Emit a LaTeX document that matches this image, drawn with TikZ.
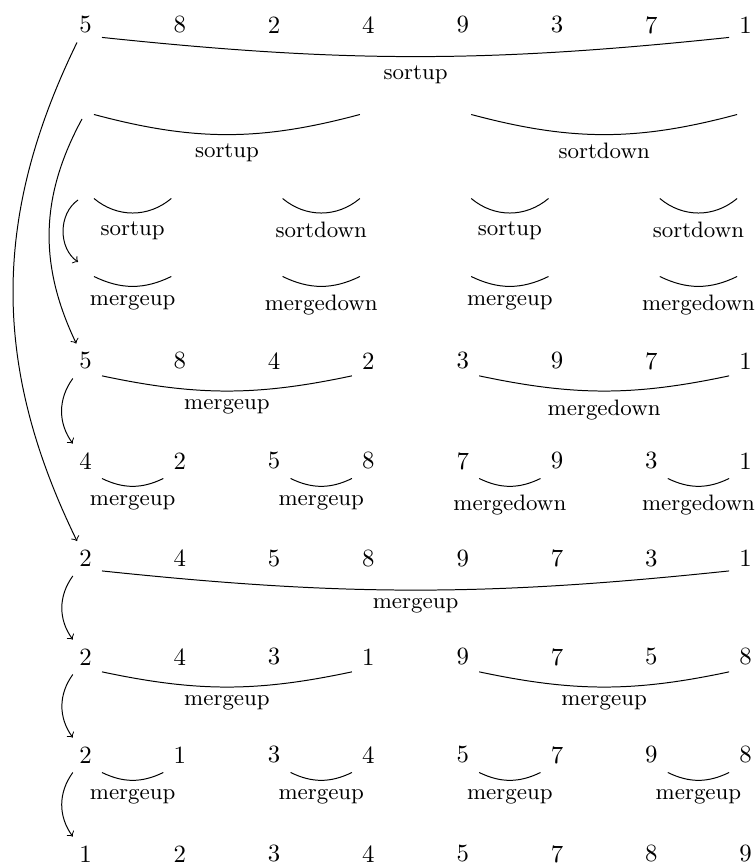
\documentclass[tikz,border=0pt]{standalone}
\begin{document}
\begin{tikzpicture}[x=0.4032pt,y=0.4032pt,
  num/.style={inner sep=0pt, minimum width=12.9pt, minimum height=13.7pt},
  hole/.style={inner sep=0pt, minimum size=6.45pt},
  lbl/.style={below, font=\small},
  flow/.style={->}]
\useasboundingbox (0,0) rectangle (755,-865);
% number rows
\foreach \v [count=\i from 0] in {5,8,2,4,9,3,7,1} \node[num] (r0c\i) at (85.5+94.3*\i,-25) {\v};
\foreach \v [count=\i from 0] in {5,8,4,2,3,9,7,1} \node[num] (r4c\i) at (85.5+94.3*\i,-361) {\v};
\foreach \v [count=\i from 0] in {4,2,5,8,7,9,3,1} \node[num] (r5c\i) at (85.5+94.3*\i,-461) {\v};
\foreach \v [count=\i from 0] in {2,4,5,8,9,7,3,1} \node[num] (r6c\i) at (85.5+94.3*\i,-558.5) {\v};
\foreach \v [count=\i from 0] in {2,4,3,1,9,7,5,8} \node[num] (r7c\i) at (85.5+94.3*\i,-657) {\v};
\foreach \v [count=\i from 0] in {2,1,3,4,5,7,9,8} \node[num] (r8c\i) at (85.5+94.3*\i,-755) {\v};
\foreach \v [count=\i from 0] in {1,2,3,4,5,7,8,9} \node[num] (r9c\i) at (85.5+94.3*\i,-854) {\v};
% empty rows
\foreach \i in {0,...,7} {
  \node[hole] (h1c\i) at (85.5+94.3*\i,-106) {};
  \node[hole] (h2c\i) at (85.5+94.3*\i,-190) {};
  \node[hole] (h3c\i) at (85.5+94.3*\i,-268) {};
}
% brackets
\draw (r0c0.-37) to[bend right=6] node[lbl]{sortup} (r0c7.217);
\draw (h1c0.south east) to[bend right=15] node[lbl]{sortup} (h1c3.south west);
\draw (h1c4.south east) to[bend right=15] node[lbl]{sortdown} (h1c7.south west);
\foreach \a/\b/\t in {0/1/sortup,2/3/sortdown,4/5/sortup,6/7/sortdown}
  \draw (h2c\a.south east) to[bend right=40] node[lbl]{\t} (h2c\b.south west);
\foreach \a/\b/\t in {0/1/mergeup,2/3/mergedown,4/5/mergeup,6/7/mergedown}
  \draw (h3c\a.south east) to[bend right=26] node[lbl]{\t} (h3c\b.south west);
\draw (r4c0.-42) to[bend right=12] node[lbl]{mergeup} (r4c3.222);
\draw (r4c4.-42) to[bend right=12] node[lbl]{mergedown} (r4c7.222);
\foreach \a/\b/\t in {0/1/mergeup,2/3/mergeup,4/5/mergedown,6/7/mergedown}
  \draw (r5c\a.south east) to[bend right=26] node[lbl]{\t} (r5c\b.south west);
\draw (r6c0.-37) to[bend right=6] node[lbl]{mergeup} (r6c7.217);
\draw (r7c0.-42) to[bend right=12] node[lbl]{mergeup} (r7c3.222);
\draw (r7c4.-42) to[bend right=12] node[lbl]{mergeup} (r7c7.222);
\foreach \a/\b in {0/1,2/3,4/5,6/7}
  \draw (r8c\a.south east) to[bend right=26] node[lbl]{mergeup} (r8c\b.south west);
% arrows
\coordinate (s1) at (82,-119);
\coordinate (s2) at (78,-200);
\coordinate (e3) at (78,-262);
\draw[flow] (r0c0) to[bend right=26] (r6c0);
\draw[flow] (s1) to[bend right=27] (r4c0);
\draw[flow] (s2) to[bend right=55] (e3);
\draw[flow] (r4c0) to[bend right=36] (r5c0);
\draw[flow] (r6c0) to[bend right=36] (r7c0);
\draw[flow] (r7c0) to[bend right=36] (r8c0);
\draw[flow] (r8c0) to[bend right=36] (r9c0);
\end{tikzpicture}
\end{document}
